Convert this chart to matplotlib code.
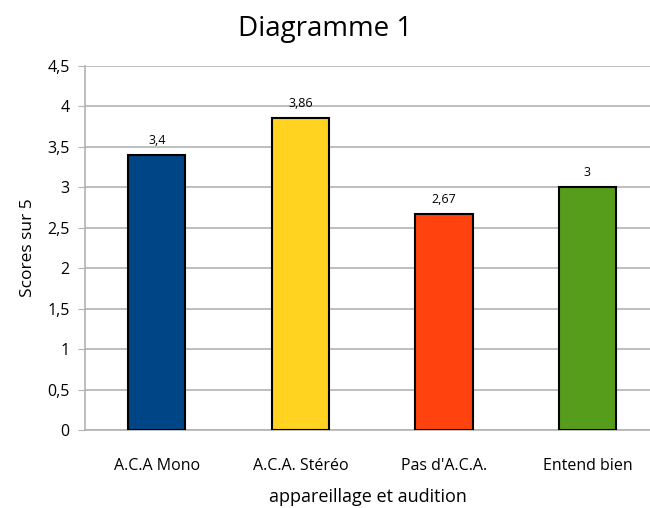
import matplotlib.pyplot as plt

# data
categories = ["A.C.A Mono", "A.C.A. Stéréo", "Pas d'A.C.A.", "Entend bien"]
scores = [3.4, 3.86, 2.67, 3.0]
bar_colors = ["#004586", "#ffd320", "#ff420e", "#579d1c"]
yticks = [0, 0.5, 1, 1.5, 2, 2.5, 3, 3.5, 4, 4.5]

plt.rcParams['font.family'] = ['Open Sans', 'DejaVu Sans']

fig = plt.figure(figsize=(6.5, 5.08), dpi=100)
ax = fig.add_axes([0.1308, 0.1535, 0.8692, 0.7165])

x = range(len(categories))
ax.bar(x, scores, width=0.4, color=bar_colors, edgecolor="black", linewidth=1.5, zorder=3)

# value labels with comma decimals
for i, v in enumerate(scores):
    lbl = ("%g" % v).replace(".", ",")
    ax.text(i, v + 0.1, lbl, ha="center", va="bottom", fontsize=9)

ax.set_xlim(-0.5, 3.436)
ax.set_ylim(0, 4.5)
ax.set_yticks(yticks)
ax.set_yticklabels([("%g" % t).replace(".", ",") for t in yticks], fontsize=11.5)
ax.set_xticks(list(x))
ax.set_xticklabels(categories, fontsize=11.5)
ax.tick_params(axis="x", length=0, pad=20)
ax.tick_params(axis="y", length=5, color="#b3b3b3", pad=6)

ax.grid(axis="y", color="#b3b3b3", linewidth=1.2, zorder=0)
for s in ["top", "right"]:
    ax.spines[s].set_visible(False)
ax.spines["left"].set_color("#b3b3b3")
ax.spines["bottom"].set_color("#b3b3b3")
ax.spines["left"].set_linewidth(1.2)
ax.spines["bottom"].set_linewidth(1.2)

ax.set_ylabel("Scores sur 5", fontsize=12.5, labelpad=8)
ax.set_xlabel("appareillage et audition", fontsize=13, labelpad=10)
fig.suptitle("Diagramme 1", fontsize=20, y=0.97)

fig.savefig("out.png", dpi=100)
